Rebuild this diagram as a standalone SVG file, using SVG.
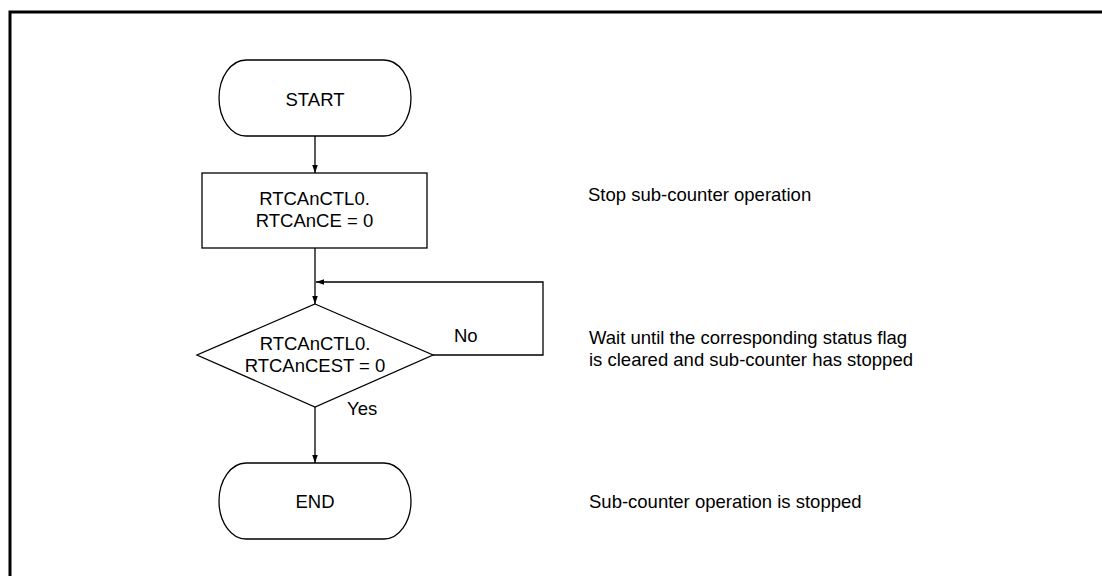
<svg xmlns="http://www.w3.org/2000/svg" width="1102" height="576" viewBox="0 0 1102 576">
<defs>
<style>
.s{fill:#fff;stroke:#000;stroke-width:1.3}
.c{fill:none;stroke:#000;stroke-width:1.3}
text{font-family:"Liberation Sans",Arial,sans-serif;font-size:18.5px;fill:#000}
.m{text-anchor:middle}
</style>
<marker id="ah" markerWidth="9" markerHeight="14" refX="13" refY="4.5" viewBox="0 0 14 9" orient="auto" markerUnits="userSpaceOnUse">
<path d="M0,0 L13,4.5 L0,9 Z" fill="#000"/>
</marker>
</defs>
<rect width="1102" height="576" fill="#fff"/>
<path d="M10,578 V12 H1104" fill="none" stroke="#000" stroke-width="3"/>
<g id="connectors">
<path class="c" d="M315,136 V173" marker-end="url(#ah)"/>
<path class="c" d="M315,248 V304" marker-end="url(#ah)"/>
<path class="c" d="M433,355 H543 V282 H316" marker-end="url(#ah)"/>
<path class="c" d="M315,407 V463" marker-end="url(#ah)"/>
</g>
<g id="start">
<path class="s" d="M246,60 H384 A27,38 0 0 1 384,136 H246 A27,38 0 0 1 246,60 Z"/>
<text class="m" x="315" y="106">START</text>
</g>
<g id="stop">
<rect class="s" x="202" y="173" width="225" height="75"/>
<text class="m" x="314.5" y="205">RTCAnCTL0.</text>
<text class="m" x="314.5" y="227">RTCAnCE = 0</text>
</g>
<g id="check">
<path class="s" d="M315,304 L433,355 L315,407 L197,355 Z"/>
<text class="m" x="315" y="350">RTCAnCTL0.</text>
<text class="m" x="315" y="372">RTCAnCEST = 0</text>
<text x="454" y="342">No</text>
<text x="347" y="415">Yes</text>
</g>
<g id="end">
<path class="s" d="M246,463 H384 A27,38 0 0 1 384,539 H246 A27,38 0 0 1 246,463 Z"/>
<text class="m" x="315" y="508">END</text>
</g>
<g id="notes">
<text x="588" y="201">Stop sub-counter operation</text>
<text x="589" y="344">Wait until the corresponding status flag</text>
<text x="589" y="366">is cleared and sub-counter has stopped</text>
<text x="589" y="508">Sub-counter operation is stopped</text>
</g>
</svg>
